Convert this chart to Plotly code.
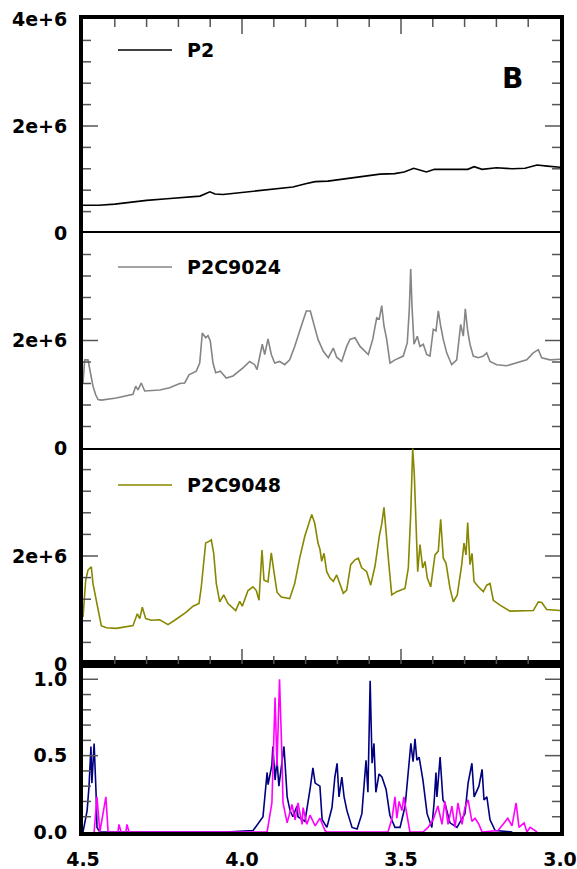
import plotly.graph_objects as go

# ---------------- 1H spectra: chemical shift (ppm) vs intensity ----------------
p2_ppm = [4.500, 4.450, 4.400, 4.343, 4.300, 4.236, 4.180, 4.132, 4.101, 4.085, 4.060,
          4.028, 3.980, 3.930, 3.881, 3.840, 3.800, 3.770, 3.730, 3.670, 3.620, 3.566,
          3.520, 3.490, 3.460, 3.445, 3.420, 3.395, 3.360, 3.320, 3.290, 3.270, 3.245,
          3.200, 3.150, 3.110, 3.072, 3.040, 3.006, 3.000]
p2_int = [0.52, 0.52, 0.54, 0.58, 0.61, 0.64, 0.66, 0.69, 0.77, 0.73, 0.72,
          0.74, 0.78, 0.81, 0.84, 0.86, 0.92, 0.96, 0.97, 1.02, 1.06, 1.10,
          1.11, 1.14, 1.21, 1.18, 1.14, 1.19, 1.19, 1.18, 1.19, 1.24, 1.19,
          1.22, 1.20, 1.21, 1.27, 1.25, 1.23, 1.23]  # x 1e6

c9024_ppm = [4.5000, 4.4947, 4.4843, 4.4770, 4.4686, 4.4601, 4.4528, 4.4425, 4.3953, 4.3428,
             4.3343, 4.3270, 4.3167, 4.3060, 4.2588, 4.2274, 4.1959, 4.1802, 4.1667, 4.1437,
             4.1330, 4.1248, 4.1142, 4.1069, 4.0997, 4.0912, 4.0827, 4.0682, 4.0494, 4.0283,
             3.9969, 3.9758, 3.9601, 3.9528, 3.9362, 3.9286, 3.9182, 3.9079, 3.8972, 3.8814,
             3.8657, 3.8500, 3.8343, 3.8135, 3.7978, 3.7852, 3.7714, 3.7610, 3.7443, 3.7286,
             3.7129, 3.7022, 3.6865, 3.6708, 3.6604, 3.6447, 3.6289, 3.6028, 3.5890, 3.5764,
             3.5682, 3.5607, 3.5535, 3.5450, 3.5346, 3.5189, 3.4928, 3.4802, 3.4739, 3.4695,
             3.4654, 3.4591, 3.4487, 3.4403, 3.4299, 3.4192, 3.4088, 3.3984, 3.3899, 3.3827,
             3.3752, 3.3670, 3.3563, 3.3406, 3.3248, 3.3123, 3.3041, 3.2978, 3.2903, 3.2830,
             3.2727, 3.2569, 3.2412, 3.2305, 3.2201, 3.1991, 3.1676, 3.1047, 3.0840, 3.0682,
             3.0575, 3.0314, 3.0000]
c9024_int = [1.21, 1.64, 1.64, 1.43, 1.15, 0.99, 0.90, 0.89, 0.93, 1.00,
             1.15, 1.08, 1.21, 1.06, 1.08, 1.12, 1.20, 1.21, 1.36, 1.43,
             1.58, 2.14, 2.05, 2.09, 1.99, 1.58, 1.40, 1.43, 1.30, 1.34,
             1.49, 1.61, 1.55, 1.46, 1.93, 1.74, 2.03, 1.74, 1.58, 1.61,
             1.55, 1.64, 1.89, 2.27, 2.55, 2.55, 2.27, 2.02, 1.80, 1.68,
             1.86, 1.69, 1.61, 1.89, 2.02, 2.05, 1.89, 1.74, 2.02, 2.42,
             2.40, 2.65, 2.27, 2.02, 1.58, 1.64, 1.71, 1.96, 2.58, 3.33,
             2.64, 1.93, 2.08, 1.89, 1.93, 1.74, 1.71, 2.21, 2.18, 2.55,
             2.27, 2.02, 1.77, 1.55, 1.64, 2.30, 2.08, 2.59, 2.18, 1.93,
             1.71, 1.68, 1.71, 1.77, 1.61, 1.55, 1.53, 1.64, 1.77, 1.83,
             1.68, 1.64, 1.65]  # x 1e6

c9048_ppm = [4.5000, 4.4915, 4.4843, 4.4739, 4.4686, 4.4601, 4.4528, 4.4425, 4.4267, 4.3953,
             4.3428, 4.3292, 4.3217, 4.3135, 4.3028, 4.2852, 4.2588, 4.2327, 4.2116, 4.1909,
             4.1752, 4.1541, 4.1352, 4.1280, 4.1142, 4.1038, 4.0965, 4.0890, 4.0808, 4.0701,
             4.0575, 4.0440, 4.0198, 4.0072, 3.9991, 3.9811, 3.9654, 3.9550, 3.9465, 3.9371,
             3.9308, 3.9182, 3.9079, 3.9003, 3.8899, 3.8764, 3.8500, 3.8343, 3.8186, 3.8028,
             3.7893, 3.7808, 3.7714, 3.7610, 3.7547, 3.7494, 3.7421, 3.7336, 3.7233, 3.7129,
             3.7022, 3.6918, 3.6814, 3.6708, 3.6582, 3.6447, 3.6343, 3.6236, 3.6079, 3.5953,
             3.5818, 3.5682, 3.5607, 3.5535, 3.5472, 3.5399, 3.5292, 3.5135, 3.4874, 3.4770,
             3.4695, 3.4632, 3.4582, 3.4528, 3.4475, 3.4403, 3.4318, 3.4245, 3.4173, 3.4066,
             3.3931, 3.3827, 3.3752, 3.3670, 3.3585, 3.3459, 3.3355, 3.3230, 3.3091, 3.3019,
             3.2956, 3.2903, 3.2830, 3.2767, 3.2704, 3.2569, 3.2412, 3.2305, 3.2201, 3.2097,
             3.1887, 3.1572, 3.0840, 3.0682, 3.0575, 3.0418, 3.0000]
c9048_int = [0.87, 1.55, 1.74, 1.80, 1.49, 1.24, 0.99, 0.71, 0.67, 0.66,
             0.71, 0.93, 0.84, 1.05, 0.84, 0.81, 0.82, 0.73, 0.81, 0.90,
             0.96, 1.07, 1.12, 1.43, 2.24, 2.27, 2.30, 2.05, 1.49, 1.15,
             1.28, 1.12, 0.99, 1.16, 1.07, 1.36, 1.43, 1.36, 1.18, 2.11,
             1.55, 1.52, 2.06, 1.74, 1.33, 1.24, 1.21, 1.49, 1.96, 2.36,
             2.61, 2.77, 2.61, 2.24, 2.12, 1.90, 2.05, 1.71, 1.59, 1.53,
             1.65, 1.46, 1.31, 1.37, 1.84, 1.93, 1.96, 1.78, 1.71, 1.46,
             1.81, 2.37, 2.59, 2.90, 2.40, 1.96, 1.28, 1.34, 1.40, 1.78,
             2.77, 3.99, 3.52, 2.46, 1.71, 2.21, 1.78, 1.90, 1.59, 1.43,
             2.02, 2.09, 2.68, 1.96, 1.87, 1.40, 1.15, 1.28, 1.84, 2.24,
             2.02, 2.62, 1.84, 2.05, 1.53, 1.43, 1.34, 1.46, 1.49, 1.18,
             1.09, 0.98, 0.99, 1.15, 1.14, 1.01, 0.99]  # x 1e6

# normalised reference spectra (bottom panel)
navy_ppm = [4.500, 4.487, 4.481, 4.475, 4.472, 4.465, 4.459, 4.456, 4.447, 4.050, 3.965,
            3.934, 3.921, 3.918, 3.906, 3.903, 3.896, 3.890, 3.884, 3.874, 3.868, 3.858,
            3.849, 3.840, 3.827, 3.824, 3.802, 3.786, 3.777, 3.770, 3.764, 3.755, 3.748,
            3.733, 3.717, 3.708, 3.701, 3.695, 3.686, 3.679, 3.670, 3.654, 3.638, 3.623,
            3.610, 3.604, 3.597, 3.591, 3.585, 3.579, 3.569, 3.560, 3.547, 3.535, 3.519,
            3.503, 3.487, 3.478, 3.469, 3.462, 3.456, 3.450, 3.443, 3.431, 3.418, 3.403,
            3.396, 3.390, 3.387, 3.377, 3.368, 3.362, 3.346, 3.324, 3.299, 3.289, 3.277,
            3.270, 3.261, 3.255, 3.245, 3.239, 3.230, 3.220, 3.204, 3.150]
navy_int = [0.00, 0.14, 0.30, 0.56, 0.32, 0.58, 0.26, 0.03, 0.00, 0.00, 0.01,
            0.10, 0.39, 0.31, 0.44, 0.56, 0.34, 0.47, 0.30, 0.49, 0.56, 0.23,
            0.14, 0.10, 0.17, 0.10, 0.07, 0.28, 0.42, 0.32, 0.31, 0.30, 0.08,
            0.03, 0.16, 0.36, 0.45, 0.23, 0.36, 0.23, 0.14, 0.03, 0.02, 0.12,
            0.47, 0.26, 0.99, 0.45, 0.58, 0.26, 0.38, 0.36, 0.28, 0.11, 0.03,
            0.03, 0.17, 0.36, 0.58, 0.46, 0.61, 0.47, 0.49, 0.34, 0.12, 0.03,
            0.19, 0.39, 0.23, 0.49, 0.21, 0.19, 0.06, 0.03, 0.12, 0.32, 0.45,
            0.23, 0.28, 0.30, 0.41, 0.21, 0.23, 0.08, 0.01, 0.00]

magenta_ppm = [4.465, 4.456, 4.447, 4.428, 4.421, 4.390, 4.387, 4.380, 4.365, 4.362, 4.355,
               3.921, 3.906, 3.896, 3.890, 3.882, 3.874, 3.871, 3.858, 3.843, 3.833, 3.824,
               3.811, 3.808, 3.796, 3.786, 3.770, 3.755, 3.739, 3.733, 3.541, 3.528, 3.519,
               3.513, 3.506, 3.497, 3.491, 3.481, 3.472, 3.431, 3.415, 3.399, 3.384, 3.371,
               3.362, 3.352, 3.340, 3.330, 3.321, 3.308, 3.299, 3.289, 3.277, 3.267, 3.255,
               3.245, 3.195, 3.179, 3.164, 3.151, 3.138, 3.129, 3.113, 3.104, 3.094, 3.072]
magenta_int = [0.00, 0.23, 0.00, 0.23, 0.00, 0.00, 0.05, 0.00, 0.00, 0.05, 0.00,
               0.00, 0.19, 0.88, 0.43, 1.00, 0.47, 0.19, 0.06, 0.18, 0.08, 0.19,
               0.05, 0.16, 0.05, 0.11, 0.04, 0.09, 0.01, 0.00, 0.00, 0.09, 0.23,
               0.09, 0.20, 0.14, 0.23, 0.11, 0.00, 0.00, 0.03, 0.08, 0.17, 0.05,
               0.20, 0.05, 0.17, 0.03, 0.19, 0.05, 0.16, 0.21, 0.07, 0.09, 0.05,
               0.00, 0.01, 0.05, 0.09, 0.04, 0.19, 0.03, 0.06, 0.00, 0.03, 0.00]

legend_names = ["P2", "P2C9024", "P2C9048"]
intensity_major = [0, 2e6, 4e6]
intensity_labels = ["0", "2e+6", "4e+6"]
norm_major = [0.0, 0.5, 1.0]
norm_labels = ["0.0", "0.5", "1.0"]
ppm_major = [4.5, 4.0, 3.5, 3.0]
ppm_labels = ["4.5", "4.0", "3.5", "3.0"]

# tick grids (0.4e6, 0.1 and 0.1 ppm steps), interior positions only
intensity_steps = [i * 4e5 for i in range(1, 10)]
norm_steps = [round(i * 0.1, 1) for i in range(1, 11)]
ppm_steps = [round(3.0 + i * 0.1, 1) for i in range(1, 15)]

# ---------------- figure ----------------
W, H = 577, 869
ML, MR, MT, MB = 83, 17, 19, 37
plot_h = H - MT - MB
plot_w = W - ML - MR


def py(pix):  # pixel row -> paper y
    return (H - MB - pix) / plot_h


def px(pix):  # pixel column -> paper x
    return (pix - ML) / plot_w


dom = {
    1: [py(233), 1.0],
    2: [py(448), py(233)],
    3: [py(664), py(448)],
    4: [0.0, py(664)],
}

BOLD = dict(family="DejaVu Sans", size=19, color="black", weight="bold")
TICKC = "#555555"
PPM_RANGE = [4.5, 3.0]
HEAVY, THIN = 4, 1.5
LONG, SHORT = 15, 8  # tick lengths in pixels

fig = go.Figure()

series = [
    (p2_ppm, p2_int, "black", 1, legend_names[0]),
    (c9024_ppm, c9024_int, "#858585", 2, legend_names[1]),
    (c9048_ppm, c9048_int, "#878700", 3, legend_names[2]),
]
for xs, ys, col, k, name in series:
    fig.add_trace(go.Scatter(
        x=xs, y=[v * 1e6 for v in ys], mode="lines", name=name,
        line=dict(color=col, width=1.6), xaxis="x" if k == 1 else f"x{k}",
        yaxis="y" if k == 1 else f"y{k}", showlegend=False))

fig.add_trace(go.Scatter(x=navy_ppm, y=navy_int, mode="lines", name="ref 1",
                         line=dict(color="#000080", width=1.6),
                         xaxis="x4", yaxis="y4", showlegend=False))
fig.add_trace(go.Scatter(x=magenta_ppm, y=magenta_int, mode="lines", name="ref 2",
                         line=dict(color="#FF00FF", width=1.6),
                         xaxis="x4", yaxis="y4", showlegend=False))

common = dict(showgrid=False, zeroline=False, automargin=False, linecolor="black",
              ticks="")

layout = dict(
    width=W, height=H, margin=dict(l=ML, r=MR, t=MT, b=MB, autoexpand=False),
    paper_bgcolor="white", plot_bgcolor="white", showlegend=False,
    xaxis=dict(common, domain=[0, 1], anchor="y", range=PPM_RANGE, side="top",
               showline=True, linewidth=HEAVY, mirror=False, showticklabels=False),
    xaxis2=dict(common, domain=[0, 1], anchor="y2", range=PPM_RANGE,
                showline=True, linewidth=THIN, mirror=True, showticklabels=False),
    xaxis3=dict(common, domain=[0, 1], anchor="y3", range=PPM_RANGE, side="bottom",
                showline=True, linewidth=HEAVY, mirror=False, showticklabels=False),
    xaxis4=dict(common, domain=[0, 1], anchor="y4", range=PPM_RANGE,
                showline=True, linewidth=HEAVY, mirror=True,
                tickmode="array", tickvals=ppm_major, ticktext=ppm_labels,
                tickfont=BOLD, ticklabelstandoff=7),
)

for k in (1, 2, 3):
    major = intensity_major if k == 1 else intensity_major[:2]
    labels = intensity_labels if k == 1 else intensity_labels[:2]
    key = "yaxis" if k == 1 else f"yaxis{k}"
    layout[key] = dict(
        common, domain=dom[k], anchor="x" if k == 1 else f"x{k}", range=[0, 4e6],
        showline=True, linewidth=HEAVY, mirror=True,
        tickmode="array", tickvals=major, ticktext=labels, tickfont=BOLD,
        ticklabelstandoff=8)

layout["yaxis4"] = dict(
    common, domain=dom[4], anchor="x4", range=[0, 1.1],
    showline=True, linewidth=HEAVY, mirror=True,
    tickmode="array", tickvals=norm_major, ticktext=norm_labels, tickfont=BOLD,
    ticklabelstandoff=8)

fig.update_layout(**layout)

shapes, annotations = [], []


def is_major(v, major):
    return any(abs(v - m) < 1e-9 for m in major)


# inward tick marks on both vertical edges: y in axis units, length as a
# fraction of the plotting width
for k, vals, major in ((1, intensity_steps, intensity_major),
                       (2, intensity_steps, intensity_major),
                       (3, intensity_steps, intensity_major),
                       (4, norm_steps, norm_major)):
    yr = "y" if k == 1 else f"y{k}"
    for v in vals:
        frac = (LONG if is_major(v, major) else SHORT) / plot_w
        for edge, sign in ((0.0, 1), (1.0, -1)):
            shapes.append(dict(type="line", xref="paper", yref=yr,
                               x0=edge, x1=edge + sign * frac, y0=v, y1=v,
                               line=dict(color=TICKC, width=1.5)))

# inward ppm ticks: down from the top edge, up from the heavy divider
for v in ppm_steps:
    frac = (LONG if is_major(v, ppm_major) else SHORT) / plot_h
    for xr, edge, sign in (("x", dom[1][1], -1), ("x3", dom[3][0], 1)):
        shapes.append(dict(type="line", xref=xr, yref="paper",
                           x0=v, x1=v, y0=edge, y1=edge + sign * frac,
                           line=dict(color=TICKC, width=1.5)))

# in-panel keys
key_rows = [50, 267, 485]
key_colors = ["black", "#858585", "#878700"]
for row, col, name in zip(key_rows, key_colors, legend_names):
    shapes.append(dict(type="line", xref="paper", yref="paper",
                       x0=px(118), x1=px(172), y0=py(row), y1=py(row),
                       line=dict(color=col, width=1.5)))
    annotations.append(dict(xref="paper", yref="paper", x=px(185), y=py(row),
                            xanchor="left", yanchor="middle", showarrow=False,
                            text=name, font=BOLD))

annotations.append(dict(xref="paper", yref="paper", x=px(512), y=py(78),
                        xanchor="center", yanchor="middle", showarrow=False,
                        text="B", font=dict(family="DejaVu Sans", size=28,
                                            color="black", weight="bold")))

fig.update_layout(shapes=shapes, annotations=annotations)

fig.write_html("out.html")
